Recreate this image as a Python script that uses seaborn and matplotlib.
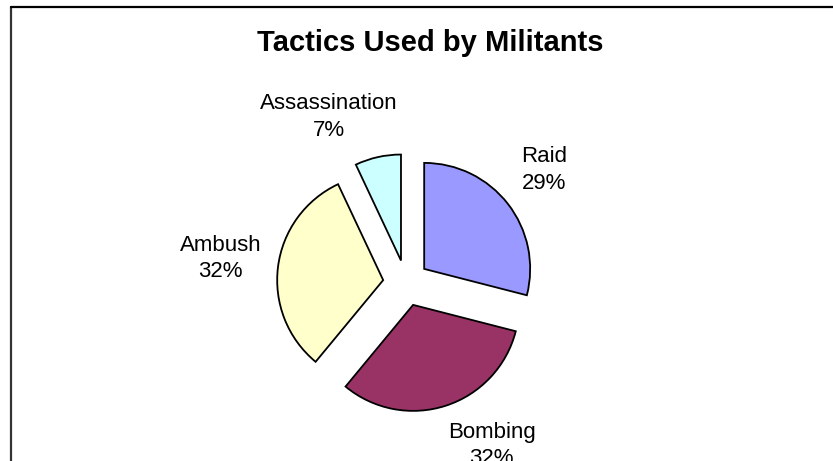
import numpy as np
import matplotlib
matplotlib.use("Agg")
import matplotlib.pyplot as plt
from matplotlib.lines import Line2D
import seaborn as sns

# Data
tactics = ["Raid", "Bombing", "Ambush", "Assassination"]
shares = [29, 32, 32, 7]
colors = ["#9999FF", "#993366", "#FFFFCC", "#CCFFFF"]

sns.set_theme(style="white")
plt.rcParams["font.family"] = ["Liberation Sans", "DejaVu Sans"]

W, H = 833, 461
fig = plt.figure(figsize=(W / 100, H / 100), dpi=100)
ax = fig.add_axes([0, 0, 1, 1])

cx, cy = 406, H - 283
radius = 106
gap = 23  # explode offset, same units as radius
explode = [gap] * len(shares)

wedges, _ = ax.pie(shares, colors=colors, startangle=90, counterclock=False,
                   radius=radius, center=(cx, cy), explode=explode, frame=True,
                   wedgeprops=dict(edgecolor="black", linewidth=1.3))

ax.set_xlim(0, W)
ax.set_ylim(0, H)
ax.set_aspect("equal")
ax.axis("off")

# labels outside each wedge, pushed away from the pie (1 data unit = 1 px)
renderer = fig.canvas.get_renderer()
for w, name, val in zip(wedges, tactics, shares):
    mid = np.deg2rad((w.theta1 + w.theta2) / 2)
    c, s = np.cos(mid), np.sin(mid)
    dist = radius + gap + 17
    t = ax.text(cx + dist * c, cy + dist * s, f"{name}\n{val}%", ha="center", va="center",
                fontsize=16, linespacing=1.33, multialignment="center", color="black")
    bb = t.get_window_extent(renderer)
    t.set_position((cx + dist * c + np.clip(3 * c, -1, 1) * bb.width / 2,
                    cy + dist * s + np.clip(2 * s, -1, 1) * bb.height / 2))

fig.text(430 / W, 1 - 43 / H, "Tactics Used by Militants", ha="center", va="center",
         fontsize=21, fontweight="bold", color="black")

# chart frame (top and left edges visible)
fig.add_artist(Line2D([10.5 / W, 10.5 / W], [0, 1 - 7 / H], color="#333333", lw=1.6,
                      transform=fig.transFigure))
fig.add_artist(Line2D([10.5 / W, 1], [1 - 7 / H, 1 - 7 / H], color="black", lw=1.6,
                      transform=fig.transFigure))

fig.savefig("out.png", dpi=100)
